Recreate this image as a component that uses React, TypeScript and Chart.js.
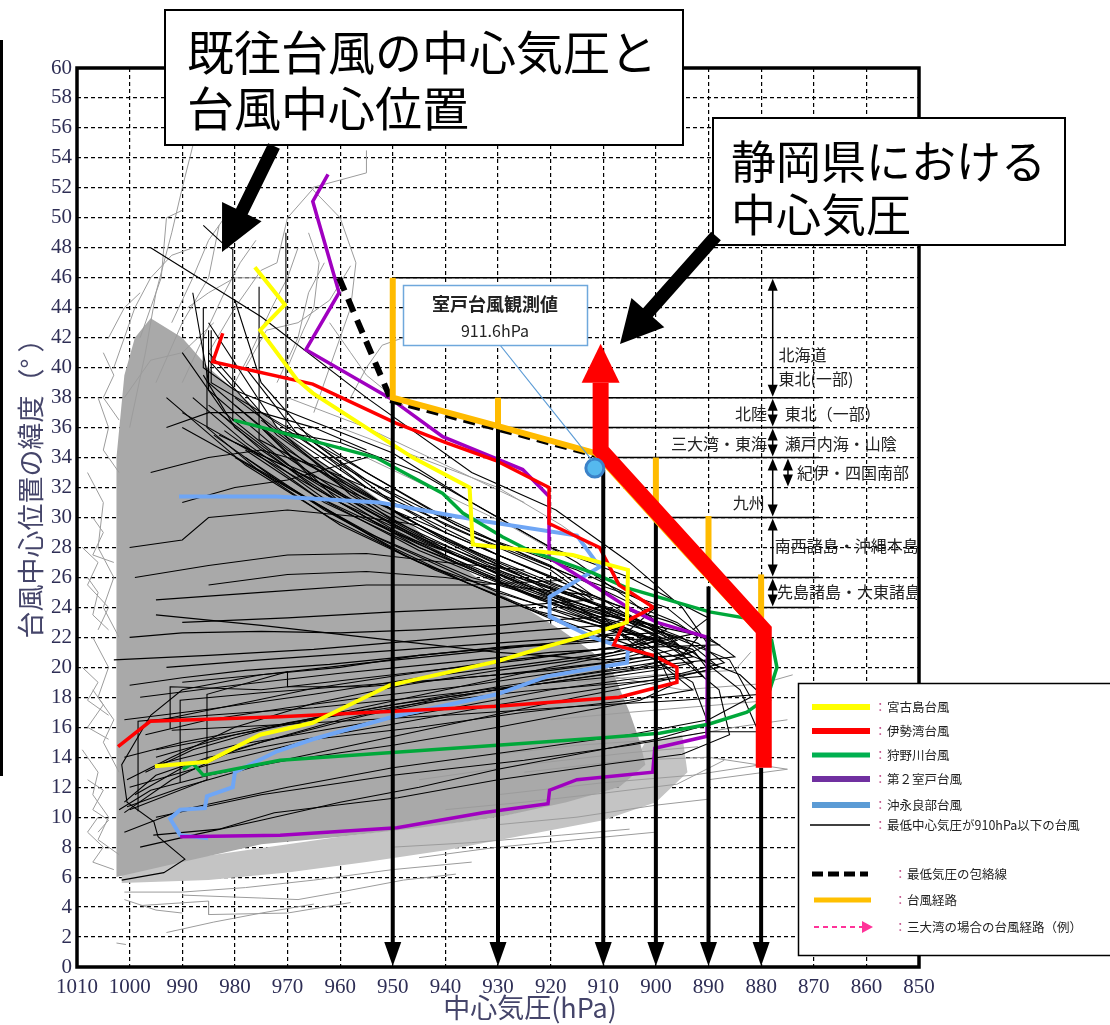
import { useEffect, useRef } from "react";
import { Chart, registerables } from "chart.js";

Chart.register(...registerables);

type Pt = [number, number];

// ---------- axes ----------
const pressureTicks: number[] = [1010, 1000, 990, 980, 970, 960, 950, 940, 930, 920, 910, 900, 890, 880, 870, 860, 850];
const latitudeTicks: number[] = [0, 2, 4, 6, 8, 10, 12, 14, 16, 18, 20, 22, 24, 26, 28, 30, 32, 34, 36, 38, 40, 42, 44, 46, 48, 50, 52, 54, 56, 58, 60];

// ---------- dense cloud of past typhoon tracks ----------
const denseCloud: Pt[] = [
  [1002.5, 6.0], [1002.5, 34], [1001, 39.5], [999, 42], [996, 43.3], [990, 42], [985, 40], [980, 38.5], [975, 37],
  [970, 35.5], [963, 33.5], [955, 31.8], [948, 30], [940, 27.5], [932, 25.5], [925, 24], [918, 22.5], [912, 21],
  [908, 19.5], [905, 17], [903, 15], [902, 13.5], [907, 12], [917, 11], [930, 10], [945, 9.3], [960, 8.7],
  [975, 8.2], [990, 7], [1002.5, 6.0],
];
const sparseBand: Pt[] = [
  [1001.5, 5.6], [985, 5.8], [970, 6.3], [955, 7], [940, 7.8], [925, 8.8], [910, 9.8], [900, 11], [894, 13],
  [895, 15.5], [902, 15], [907, 12], [930, 10], [960, 8.7], [1001.5, 6.6],
];

const grayTracks: Pt[][] = [
  [[1008, 33], [1005, 31], [1006, 28], [1003, 26], [1005, 24], [1002, 22]],
  [[1007, 22], [1004, 20], [1006, 18], [1003, 16.5], [1005, 15], [1002, 13]],
  [[1009, 14.5], [1006, 13], [1007, 11.5], [1004, 10], [1006, 8.5], [1002, 7.5]],
  [[1006, 38], [1004, 36], [1005, 34.5], [1002, 33]],
  [[1008, 26], [1006, 25], [1007, 23.5], [1004, 22.5]],
  [[1006, 10], [1008, 9], [1005, 8], [1007, 7], [1003, 6.5]],
  [[1007, 18.5], [1005, 17.5], [1008, 16], [1004, 15.2]],
  [[1009, 28], [1006, 27], [1008, 25.5], [1004, 24], [1006, 22.5]],
  [[1005, 41], [1003, 39.5], [1005, 38], [1002, 36.5]],
  [[1008, 12.5], [1005, 11.8], [1007, 10.5], [1004, 9.8], [1006, 9]],
  [[1009, 20], [1006, 19], [1008, 17.8], [1004, 16.8]],
  [[1007, 30], [1005, 29], [1007, 27.5], [1003, 27]],
  [[1002.5, 1.6], [1000.7, 1.5]],
  [[1000, 36], [997, 41], [995, 45], [992, 49], [990, 52], [987.5, 55.5]],
  [[992, 43], [988, 46], [985, 48.5], [981, 50.5], [978, 50]],
  [[985, 41], [980, 44], [975, 46.5], [972, 47], [970, 50], [965, 52]],
  [[965, 37], [962, 40], [960, 42], [958, 44], [957, 47], [960, 50], [965.5, 52], [955, 53], [955, 54.5]],
  [[972, 39], [968, 42], [966, 45], [963, 47]],
  [[995, 39], [990, 43], [985, 46], [983, 49.5]],
  [[978, 40], [974, 42.5], [968, 43], [962, 44.5], [958, 46.8]],
  [[1001, 38], [996, 40.5], [990, 41], [984, 43]],
  [[958, 38], [955, 40], [952, 41.5], [948, 42]],
  [[962, 43], [958, 41], [955, 39.5], [948, 37.5]],
  [[1003, 40], [999, 44], [996, 46], [992, 47.5], [988, 48]],
  [[998, 42], [994, 46], [993, 50], [990, 50.5]],
  [[990, 39], [986, 42], [982, 45], [979, 47], [976, 48.5]],
  [[980, 39], [977, 41], [973, 44], [970, 46], [968, 48]],
  [[1004, 42], [1001, 44], [998, 45]],
  [[989, 44], [985, 45], [980, 46], [975, 46]],
  [[970, 40], [967, 42.5], [965, 44], [964, 47], [966, 49]],
  [[960, 36], [945, 34], [930, 32], [918, 29.5], [912, 28]],
  [[955, 34], [940, 31.5], [928, 29.5], [918, 27.5]],
  [[970, 38], [955, 36], [940, 33.5], [925, 31]],
  [[925, 13], [905, 13.8], [890, 14], [875, 13.2], [890, 12.5]],
  [[930, 11.5], [910, 12.3], [893, 12.8], [880, 13.5]],
  [[920, 16.5], [905, 17], [888, 17.5], [878, 17.8]],
  [[915, 19], [900, 19.5], [885, 19.8], [882, 21]],
  [[930, 9.5], [915, 10], [900, 10.8], [890, 11.2]],
  [[950, 8], [935, 8.3], [918, 8.8], [905, 9.2]],
  [[935, 14], [915, 14.8], [898, 15.2], [885, 16], [875, 16.5]],
  [[945, 12.5], [925, 13.5], [905, 14.3], [892, 14.7]],
  [[910, 19.5], [895, 18.5], [880, 18.9], [874, 19.5]],
  [[1001, 5], [990, 5], [978, 5.3], [965, 5.8], [950, 6.5], [935, 7]],
  [[998, 4.1], [985, 4.4], [985, 3.5], [970, 3.6], [958, 4.3]],
  [[993, 2.3], [984, 3], [975, 3.6], [965, 4.2]],
  [[990, 4.8], [975, 4.6], [968, 4.5], [960, 5], [948, 5.8], [938, 6.2]],
  [[945, 7.3], [930, 8], [915, 8.5], [900, 9]],
  [[940, 10.5], [925, 11], [910, 11.6], [896, 12.2], [887, 13.8]],
  [[1001, 4.5], [995, 3.8], [990, 3.6]],
];

const blackTracks: Pt[][] = [
  [[1000.5, 10.7], [990, 12], [975, 13.5], [955, 15], [935, 16.5], [915, 18], [900, 19], [888, 20], [895, 22], [910, 24], [930, 26.5], [950, 29], [965, 32], [980, 36], [986, 39.5]],
  [[1001, 10.3], [992, 12.5], [980, 14.5], [960, 16.5], [940, 18], [920, 19], [905, 19.8], [898, 20.5], [905, 22.5], [925, 25], [945, 28], [960, 31], [975, 34.5], [983, 37]],
  [[999, 11.5], [990, 13.3], [975, 15], [955, 16.8], [935, 18.2], [915, 19.5], [893, 20.7], [900, 22.8], [920, 24.8], [940, 27.8], [955, 30.5], [970, 34], [985, 38.5], [985, 42.5]],
  [[997, 13], [988, 14.5], [970, 16.3], [950, 17.5], [930, 18.7], [910, 19.7], [885, 20.7], [890, 22], [910, 23.5], [935, 26], [955, 29], [972, 32.5], [990, 36]],
  [[1000, 12], [985, 13.5], [965, 15.2], [945, 16], [925, 17], [905, 17.8], [893, 18.5], [900, 20.5], [915, 22.5], [935, 25.5], [950, 28], [963, 30.5], [978, 34]],
  [[995, 14.5], [980, 15.5], [960, 17], [940, 18.5], [920, 20], [905, 21], [896, 21.8], [905, 23.5], [925, 26], [945, 29.5], [962, 33], [975, 36.5]],
  [[1001, 16.5], [985, 17.2], [965, 18.2], [945, 19.3], [925, 20.2], [908, 21], [900, 22], [910, 24], [930, 27], [948, 30], [965, 34], [980, 38]],
  [[998, 18], [980, 18.8], [960, 19.6], [940, 20.3], [920, 21], [905, 21.3], [888, 21.5], [897, 23], [915, 25], [940, 28.5], [958, 32], [972, 35.5], [985, 40.5]],
  [[993, 20], [975, 20.5], [955, 21], [935, 21.5], [915, 22], [900, 22.3], [910, 24.5], [930, 27.5], [950, 31], [965, 35], [975, 39], [980, 44.5]],
  [[1003, 20.5], [985, 20.8], [965, 21.2], [945, 21.8], [925, 22.4], [910, 22.8], [903, 23.5], [920, 26], [940, 29], [955, 32], [968, 35.5], [978, 40]],
  [[990, 23], [970, 23.3], [950, 23.7], [930, 24], [912, 24.5], [920, 26.5], [940, 29.5], [960, 33.5], [975, 37], [985, 41]],
  [[995, 24.5], [975, 25], [955, 25.5], [935, 25.5], [918, 25.8], [930, 27.5], [950, 30.5], [970, 33.5], [985, 37.5]],
  [[992, 15.8], [970, 16.2], [940, 16.8], [910, 17.5], [895, 17.8], [880, 18.2], [884, 19.5], [895, 21], [915, 23.5], [935, 26.5], [955, 30], [975, 34], [990, 37]],
  [[1001, 9], [990, 10.5], [970, 12], [950, 13.3], [925, 14.5], [905, 15.5], [890, 16.5], [882, 18], [886, 20.5], [900, 22.5], [925, 25.5], [945, 28.5], [965, 32.5], [983, 35.5]],
  [[995, 10], [975, 11.5], [950, 12.8], [925, 13.8], [905, 14.8], [890, 15.7], [880.5, 15.7], [884, 18.5], [893, 21], [910, 23], [935, 27], [960, 31], [975, 36]],
  [[998.4, 10.4], [998.4, 16.4], [985, 16.8], [965, 17.3], [945, 18], [925, 18.8], [910, 19.3], [900, 19.8], [893, 20.3], [898, 21.5], [915, 24], [938, 27.5], [958, 31.5], [970.3, 35.4], [970.3, 49]],
  [[1001.5, 5.8], [993.5, 6.3], [989.5, 7.2], [994.6, 8.7], [995.4, 9.7], [1000.5, 11], [1001.5, 13.5], [996, 16.8], [990, 18.5], [975, 19.5], [955, 20.3], [935, 21], [915, 21.8], [905, 22.5], [900, 24], [915, 26.5], [935, 29], [955, 32.5], [965, 35]],
  [[995.5, 8.8], [983, 9.2], [972.5, 10.3], [958.5, 10.9], [949, 11.3], [930, 12.5], [910, 13.5], [895, 14.2], [886, 15.5], [888, 18.5], [895, 20.5], [905, 22], [925, 24.5], [945, 27], [960, 29.5], [975, 33], [985.3, 36], [985.3, 40]],
  [[996, 48], [975, 43.4], [955, 38], [935, 33], [919, 30.5], [905, 27], [895, 24], [890, 21.5], [900, 20], [920, 19], [950, 17.5], [980, 15.5], [995, 14]],
  [[986, 49.5], [982.3, 48.3], [980.4, 47.9], [980.4, 36.5], [975, 36], [960, 35], [945, 33], [930, 30], [915, 27], [905, 24.5], [898, 22.5], [905, 21.5], [925, 20.5], [950, 19.5], [975, 18.5], [992.3, 18.7], [992.3, 15.9]],
  [[975.4, 45.4], [975.4, 35.2], [955, 31.5], [940, 28.5], [925, 26], [910, 23], [902, 21], [910, 20.3], [930, 19.5], [955, 18.7], [970, 18.7], [970, 19.7], [985.3, 18.2], [985.3, 12.5], [1000, 10.5]],
  [[984.5, 42.5], [984.5, 39], [970, 36], [955, 33], [940, 30], [925, 27.5], [912, 25.5], [903, 24], [896, 23], [892, 22], [895, 20.8], [910, 20.5], [930, 21], [955, 22], [975, 22.8], [995, 23.5]],
  [[986, 44], [986, 40], [980, 38.5], [968, 36.8], [950, 34.3], [935, 31], [920, 28], [905, 26], [895, 24.2], [890, 23.3], [893, 22.5]],
  [[999, 26], [985, 26.8], [970, 27.5], [955, 27.6], [940, 27], [925, 26.5]],
  [[1000, 28], [990, 28.5], [985, 30], [970, 30.5], [955, 30], [945, 29.5]],
  [[990, 31], [980, 32], [970, 32.5], [960, 33.5], [955, 34]],
  [[990.4, 12.3], [990.4, 17.8], [975, 18.3], [960, 18.7], [940, 19.2], [920, 19.8], [905, 20.5], [895, 21.3], [902, 23], [920, 25.3], [945, 28.8], [962, 32], [980, 35]],
  [[1001, 11], [995, 12.8], [985, 14], [970, 15], [950, 16.2], [930, 17.5], [912, 18.5], [898, 19.3], [890, 19.8], [893, 21.2], [905, 22.3], [922, 23.7], [942, 26.5], [962, 30], [978, 33.5], [993, 38]],
  [[1002, 10.5], [996, 11.8], [985, 12.8], [970, 13.8], [950, 14.8], [930, 16], [915, 17], [903, 17.8], [897, 18.8], [900, 21], [912, 23.2], [930, 25.8], [950, 29.2], [968, 33], [982, 37], [990, 41]],
  [[1000.5, 12.5], [992, 14], [980, 16], [965, 17.6], [948, 18.8], [930, 19.8], [915, 20.5], [905, 21.2], [898, 22], [908, 23.8], [928, 26.2], [950, 29.8], [967, 33.8], [980, 37.5]],
  [[997, 15.5], [985, 16.5], [970, 17.3], [955, 18], [935, 18.8], [918, 19.7], [905, 20.3], [893, 21], [902, 22.5], [922, 24.5], [945, 27.8], [965, 31.5], [982, 35.8]],
  [[994, 16.5], [980, 17.5], [965, 18.6], [950, 19.4], [930, 20.4], [915, 21], [900, 21.7], [892, 22.3], [898, 24], [915, 26], [935, 28.8], [955, 32], [972, 36], [985, 43]],
  [[990, 19], [975, 19.5], [960, 20], [945, 20.8], [930, 21.3], [915, 21.6], [905, 21.9], [910, 23.3], [925, 25.2], [945, 28], [963, 31], [978, 34.5]],
  [[1000, 22], [990, 22.3], [975, 22.4], [960, 22.3], [945, 22.5], [930, 22.8], [918, 23.2], [908, 23.4], [915, 25], [932, 27], [952, 30.5], [970, 34.5], [985, 39], [988, 45]],
  [[995, 13.5], [980, 14.8], [960, 16], [940, 17.2], [920, 18.5], [905, 19.2], [895, 19.6], [887, 20.3], [892, 21.6], [905, 23], [925, 25.3], [945, 28.2], [962, 31], [978, 35], [988, 38]],
  [[1001, 14], [990, 15], [975, 16], [960, 16.8], [945, 17.6], [925, 18.4], [908, 18.9], [898, 19.2], [891, 19.4], [896, 21.3], [911, 23], [930, 25], [952, 28.5], [970, 32], [984, 35.5]],
  [[998, 8], [988, 8.8], [975, 9.8], [960, 11], [945, 12], [930, 13.2], [915, 14.2], [900, 15.2], [890, 16.2], [893, 19], [905, 21.5], [925, 24], [948, 27.5], [965, 31], [980, 34]],
  [[985, 25.5], [970, 26.2], [955, 26.4], [940, 26], [925, 25.3], [912, 24.8], [920, 26.8], [938, 29.5], [955, 33], [968, 36]],
  [[1000, 18.8], [990, 19.3], [978, 19.8], [962, 20.2], [945, 20.8], [928, 21.4], [912, 21.8], [899, 21.9], [906, 23.2], [924, 25.5], [947, 29], [965, 32.5], [975, 36]],
  [[996, 33], [985, 34], [975, 34.5], [965, 33.5], [955, 32]],
  [[993, 36], [985, 37], [975, 37], [965, 36], [955, 34.5]],
];

// ---------- notable typhoons ----------
const miyakojima: Pt[] = [
  [995.2, 13.4], [985.3, 13.7], [975.2, 15.5], [965.2, 16.3], [957.6, 17.6], [950.6, 18.8], [930.2, 20.4], [920.7, 21.4],
  [914.5, 22], [905.5, 23], [905.3, 26.5], [915.8, 27.5], [934.8, 28.2], [935.4, 32], [946.2, 34], [965.2, 38.3],
  [968.2, 39.2], [975.2, 42.5], [970.5, 44.2], [976.2, 46.7],
];
const isewan: Pt[] = [
  [1002.2, 14.7], [996.1, 16.4], [971.4, 16.7], [930.2, 17.4], [907, 18], [896, 19], [896, 20], [900.5, 20.8],
  [908, 21.5], [906, 23], [900.5, 24], [907, 25.5], [910.7, 28], [920.3, 29.6], [920.3, 32], [930.4, 33.8],
  [939.9, 35], [949.4, 36.3], [965.2, 38.9], [984.2, 40.4], [982.3, 42.3],
];
const kanogawa: Pt[] = [
  [989.9, 13.2], [988, 13.6], [986, 12.8], [971.4, 13.8], [930.2, 14.8], [910, 15.3], [899.3, 15.6], [890, 16.2],
  [882.7, 17], [878.8, 18], [877, 20], [878, 21.8], [881.6, 23.2], [889.8, 23.7], [905.5, 25.3], [912, 26.3],
  [924.1, 27.8], [929.1, 28.7], [936.7, 30.3], [940.5, 31.6], [953.2, 34], [974.7, 36], [980.2, 36.5],
];
const muroto2: Pt[] = [
  [990.4, 8.7], [971.4, 8.8], [949.2, 9.3], [932.9, 10.3], [920.5, 10.9], [920.2, 11.8], [915, 12.5], [900.6, 13],
  [900.2, 14.6], [890.3, 15.4], [890.2, 22], [899.8, 23], [904.4, 23.8], [912, 25.5], [920.2, 27.3], [920.3, 31.4],
  [925.3, 33.2], [940.5, 35.4], [950.7, 38], [966.5, 41.2], [960.2, 45], [965.2, 51.1], [962.3, 52.9],
];
const okinoerabu: Pt[] = [
  [985.1, 8.6], [990.4, 8.8], [992.3, 9.9], [990.4, 10.5], [985.7, 10.6], [985.3, 11.4], [980.4, 12], [980, 13],
  [972, 14.4], [965.2, 15.2], [950, 16.7], [930.2, 18.2], [920.7, 19.4], [910.7, 20], [905.5, 20.3], [905.3, 21.2],
  [912, 22], [920.2, 23.4], [920.2, 24.7], [910.7, 26.7], [915, 28.8], [933.5, 29.8], [952.5, 31], [972.2, 31.4],
  [990.6, 31.4],
];

// ---------- Shizuoka scenario ----------
const shizuokaPath: Pt[] = [[879.5, 13.3], [879.5, 22.5], [910.5, 34.5], [910.5, 39]];
const shizuokaArrowTipLat = 41.6;
const typhoonRoute: Pt[] = [[950, 46], [950, 38], [930, 36.1], [911.5, 34.3], [896, 28.3], [881, 22.6]];
const routeStubs: Pt[][] = [
  [[930, 36.1], [930, 38]],
  [[900, 30.4], [900, 34]],
  [[890, 26.6], [890, 30.1]],
  [[880, 23.3], [880, 26.2]],
];
const envelopeSteep: Pt[] = [[960.2, 46], [950.5, 38]];
const envelopeRoute: Pt[] = [[950.5, 37.8], [930, 35.9], [911, 34.1]];
const dropPressures: number[] = [950, 930, 910, 900, 890, 880];
const dropTopLats: number[] = [38, 36.1, 33.2, 29.8, 25.4, 13.3];
const regionLineLats: number[] = [46, 38, 36, 34, 30, 26, 24];
const regionLineStartP: number[] = [950, 950, 930, 910, 900, 890, 880];
const regionLineEndP = 869;
const regionSpans: [number, number, number][] = [
  [877.8, 46, 38], [877.8, 38, 36], [877.8, 36, 34], [877.8, 34, 30], [874.9, 34, 32], [877.8, 30, 26], [877.8, 26, 24],
];
const regionLabels: { text: string; p: number; lat: number; align: "left" | "right" }[] = [
  { text: "北海道", p: 876.7, lat: 40.85, align: "left" },
  { text: "東北(一部)", p: 876.7, lat: 39.25, align: "left" },
  { text: "北陸", p: 878.9, lat: 36.9, align: "right" },
  { text: "東北（一部）", p: 875.5, lat: 36.9, align: "left" },
  { text: "三大湾・東海", p: 878.9, lat: 34.9, align: "right" },
  { text: "瀬戸内海・山陰", p: 875.5, lat: 34.9, align: "left" },
  { text: "紀伊・四国南部", p: 873.2, lat: 33.0, align: "left" },
  { text: "九州", p: 879.3, lat: 31.0, align: "right" },
  { text: "南西諸島・沖縄本島", p: 877.4, lat: 28.1, align: "left" },
  { text: "先島諸島・大東諸島", p: 877.0, lat: 25.0, align: "left" },
];
const murotoObserved: Pt = [911.6, 33.3];

const legendLabels: string[] = [
  "宮古島台風", "伊勢湾台風", "狩野川台風", "第２室戸台風", "沖永良部台風", "最低中心気圧が910hPa以下の台風",
  "最低気圧の包絡線", "台風経路", "三大湾の場合の台風経路（例）",
];

const CJK = '"Noto Sans CJK JP", "Noto Sans", sans-serif';

const toXY = (d: Pt[]) => d.map(([x, y]) => ({ x, y }));

function lineSet(data: Pt[], color: string, width: number, order: number, extra: any = {}) {
  return {
    data: toXY(data),
    showLine: true,
    borderColor: color,
    backgroundColor: color,
    borderWidth: width,
    pointRadius: 0,
    pointHoverRadius: 0,
    fill: false,
    tension: 0,
    order,
    ...extra,
  };
}

function blockArrow(ctx: CanvasRenderingContext2D, x1: number, y1: number, x2: number, y2: number, shaft: number, headLen: number, headW: number) {
  const ang = Math.atan2(y2 - y1, x2 - x1);
  const len = Math.hypot(x2 - x1, y2 - y1);
  ctx.save();
  ctx.translate(x1, y1);
  ctx.rotate(ang);
  ctx.fillStyle = "#000";
  ctx.beginPath();
  ctx.moveTo(0, -shaft / 2);
  ctx.lineTo(len - headLen, -shaft / 2);
  ctx.lineTo(len - headLen, -headW / 2);
  ctx.lineTo(len, 0);
  ctx.lineTo(len - headLen, headW / 2);
  ctx.lineTo(len - headLen, shaft / 2);
  ctx.lineTo(0, shaft / 2);
  ctx.closePath();
  ctx.fill();
  ctx.restore();
}

function tri(ctx: CanvasRenderingContext2D, ax: number, ay: number, bx: number, by: number, cx: number, cy: number) {
  ctx.beginPath();
  ctx.moveTo(ax, ay);
  ctx.lineTo(bx, by);
  ctx.lineTo(cx, cy);
  ctx.closePath();
  ctx.fill();
}

const overlayPlugin = {
  id: "overlay",
  afterDraw(chart: any) {
    const ctx: CanvasRenderingContext2D = chart.ctx;
    const a = chart.chartArea;
    const xs = chart.scales.x;
    const ys = chart.scales.y;
    const X = (p: number) => xs.getPixelForValue(p);
    const Y = (l: number) => ys.getPixelForValue(l);
    ctx.save();

    // frame
    ctx.strokeStyle = "#000";
    ctx.lineWidth = 3.5;
    ctx.strokeRect(a.left, a.top, a.right - a.left, a.bottom - a.top);
    ctx.lineWidth = 3;
    ctx.beginPath();
    ctx.moveTo(1.5, 40);
    ctx.lineTo(1.5, 776);
    ctx.stroke();

    // drop arrowheads
    ctx.fillStyle = "#000";
    dropPressures.forEach((p) => {
      const x = X(p);
      const y = Y(0);
      tri(ctx, x, y - 1, x - 8.5, y - 25, x + 8.5, y - 25);
    });

    // red arrowhead
    {
      const last = shizuokaPath[shizuokaPath.length - 1];
      const x = X(last[0]);
      ctx.fillStyle = "#ff0000";
      tri(ctx, x, Y(shizuokaArrowTipLat), x - 19, Y(last[1]), x + 19, Y(last[1]));
    }

    // region double arrows
    ctx.strokeStyle = "#000";
    ctx.fillStyle = "#000";
    ctx.lineWidth = 1.5;
    regionSpans.forEach(([p, top, bot]) => {
      const x = X(p);
      const y1 = Y(top) + 1;
      const y2 = Y(bot) - 1;
      ctx.beginPath();
      ctx.moveTo(x, y1 + 6);
      ctx.lineTo(x, y2 - 6);
      ctx.stroke();
      tri(ctx, x, y1, x - 5, y1 + 12, x + 5, y1 + 12);
      tri(ctx, x, y2, x - 5, y2 - 12, x + 5, y2 - 12);
    });

    // region labels
    ctx.save();
    ctx.beginPath();
    ctx.rect(a.left, a.top, a.right - a.left - 2, a.bottom - a.top);
    ctx.clip();
    ctx.font = `16px ${CJK}`;
    ctx.fillStyle = "#222";
    ctx.textBaseline = "middle";
    regionLabels.forEach((l) => {
      ctx.textAlign = l.align;
      ctx.fillText(l.text, X(l.p), Y(l.lat));
    });
    ctx.restore();

    // observed value callout
    ctx.strokeStyle = "#5b9bd5";
    ctx.lineWidth = 1.2;
    ctx.beginPath();
    ctx.moveTo(500, 345);
    ctx.lineTo(X(murotoObserved[0]) - 3, Y(murotoObserved[1]) - 8);
    ctx.stroke();
    ctx.fillStyle = "#fff";
    ctx.fillRect(403, 285, 184, 60);
    ctx.lineWidth = 1.5;
    ctx.strokeStyle = "#6fa8dc";
    ctx.strokeRect(403.5, 285.5, 184, 60);
    ctx.fillStyle = "#222";
    ctx.textAlign = "center";
    ctx.textBaseline = "middle";
    ctx.font = `bold 18px ${CJK}`;
    ctx.fillText("室戸台風観測値", 495, 304);
    ctx.font = `16px ${CJK}`;
    ctx.fillText("911.6hPa", 495, 331);

    // big callout boxes
    ctx.fillStyle = "#fff";
    ctx.fillRect(165, 10, 518, 135);
    ctx.fillRect(713, 118, 352, 127);
    ctx.strokeStyle = "#000";
    ctx.lineWidth = 2;
    ctx.strokeRect(165, 10, 518, 135);
    ctx.strokeRect(713, 118, 352, 127);
    ctx.fillStyle = "#000";
    ctx.textAlign = "left";
    ctx.font = `47px ${CJK}`;
    ctx.fillText("既往台風の中心気圧と", 187, 52);
    ctx.fillText("台風中心位置", 187, 108);
    ctx.font = `45px ${CJK}`;
    ctx.fillText("静岡県における", 731, 162);
    ctx.fillText("中心気圧", 731, 215);
    blockArrow(ctx, 274, 146, 222, 252, 13, 45, 44);
    blockArrow(ctx, 716, 236, 620, 344, 13, 42, 44);

    // legend
    ctx.fillStyle = "#fff";
    ctx.fillRect(798, 683, 330, 273);
    ctx.strokeStyle = "#000";
    ctx.lineWidth = 1.5;
    ctx.strokeRect(798.5, 683.5, 330, 272);
    const rows = [
      { y: 707, color: "#ffff00", w: 6, dash: [] as number[], x1: 812, x2: 870, tx: 878 },
      { y: 731, color: "#ff0000", w: 6, dash: [], x1: 812, x2: 870, tx: 878 },
      { y: 755, color: "#00b050", w: 5, dash: [], x1: 812, x2: 870, tx: 878 },
      { y: 779, color: "#7030a0", w: 6, dash: [], x1: 812, x2: 870, tx: 878 },
      { y: 805, color: "#5b9bd5", w: 6, dash: [], x1: 812, x2: 870, tx: 878 },
      { y: 825, color: "#000", w: 1.5, dash: [], x1: 810, x2: 870, tx: 878 },
      { y: 874, color: "#000", w: 5, dash: [11, 5], x1: 812, x2: 868, tx: 898 },
      { y: 900, color: "#ffc000", w: 5, dash: [], x1: 814, x2: 871, tx: 898 },
      { y: 927, color: "#ff3399", w: 2, dash: [5, 4], x1: 814, x2: 870, tx: 898 },
    ];
    ctx.textBaseline = "middle";
    ctx.textAlign = "left";
    rows.forEach((r, i) => {
      ctx.save();
      ctx.strokeStyle = r.color;
      ctx.lineWidth = r.w;
      ctx.setLineDash(r.dash);
      ctx.beginPath();
      ctx.moveTo(r.x1, r.y);
      ctx.lineTo(i === 8 ? r.x2 - 8 : r.x2, r.y);
      ctx.stroke();
      ctx.restore();
      if (i === 8) {
        ctx.fillStyle = r.color;
        tri(ctx, r.x2 + 3, r.y, r.x2 - 8, r.y - 6, r.x2 - 8, r.y + 6);
      }
      ctx.font = `12.5px ${CJK}`;
      ctx.fillStyle = "#c0508a";
      ctx.fillText("：", r.tx - 4, r.y);
      ctx.fillStyle = "#222";
      ctx.fillText(legendLabels[i], r.tx + 9, r.y);
    });

    // axis titles
    ctx.fillStyle = "#45456a";
    ctx.font = `27px ${CJK}`;
    ctx.textAlign = "center";
    ctx.textBaseline = "middle";
    ctx.fillText("中心気圧(hPa)", 530, 1008);
    ctx.save();
    ctx.translate(31, 482);
    ctx.rotate(-Math.PI / 2);
    ctx.fillText("台風中心位置の緯度（° ）", 0, 0);
    ctx.restore();

    ctx.restore();
  },
};

export default function App() {
  const ref = useRef<HTMLCanvasElement | null>(null);

  useEffect(() => {
    if (!ref.current) return;
    const datasets: any[] = [];
    datasets.push(lineSet(sparseBand, "#c4c4c4", 0, 210, { fill: "shape", backgroundColor: "#c4c4c4" }));
    datasets.push(lineSet(denseCloud, "#a9a9a9", 0, 200, { fill: "shape", backgroundColor: "#a9a9a9" }));
    grayTracks.forEach((t) => datasets.push(lineSet(t, "#9c9c9c", 1, 150)));
    blackTracks.forEach((t) => datasets.push(lineSet(t, "#000", 1.1, 120)));
    datasets.push(lineSet(okinoerabu, "#6fa6f5", 4, 104));
    datasets.push(lineSet(muroto2, "#a000c0", 3.5, 103));
    datasets.push(lineSet(kanogawa, "#00a83a", 3.5, 102));
    datasets.push(lineSet(isewan, "#ff0000", 3.5, 101));
    datasets.push(lineSet(miyakojima, "#ffff00", 4, 100));
    regionLineLats.forEach((lat, i) =>
      datasets.push(lineSet([[regionLineStartP[i], lat], [regionLineEndP, lat]], "#000", 1.5, 90))
    );
    dropPressures.forEach((p, i) =>
      datasets.push(lineSet([[p, dropTopLats[i]], [p, 1.5]], "#000", 4, 80))
    );
    datasets.push(lineSet(envelopeSteep, "#000", 6, 70, { borderDash: [14, 9] }));
    datasets.push(lineSet(envelopeRoute, "#000", 5, 70, { borderDash: [12, 7] }));
    datasets.push(lineSet(typhoonRoute, "#ffbb00", 6, 60));
    routeStubs.forEach((s) => datasets.push(lineSet(s, "#ffbb00", 6, 60)));
    datasets.push(lineSet(shizuokaPath, "#ff0000", 16, 50, { borderJoinStyle: "miter", borderCapStyle: "butt" }));
    datasets.push({
      data: toXY([murotoObserved]),
      showLine: false,
      pointRadius: 9,
      pointHoverRadius: 9,
      pointBackgroundColor: "#55b9ee",
      pointBorderColor: "#3b82c8",
      pointBorderWidth: 3,
      order: 40,
    });

    const chart = new Chart(ref.current, {
      type: "scatter",
      data: { datasets },
      options: {
        animation: false,
        responsive: false,
        devicePixelRatio: 1,
        events: [],
        layout: { padding: { top: 68, right: 191, bottom: 0, left: 0 } },
        plugins: { legend: { display: false }, tooltip: { enabled: false }, title: { display: false } },
        scales: {
          x: {
            type: "linear",
            reverse: true,
            min: 850,
            max: 1010,
            afterFit: (s: any) => {
              s.height = 58;
            },
            grid: { color: "#000", lineWidth: 1.2, drawTicks: false },
            border: { display: false, dash: [4, 3] },
            ticks: {
              stepSize: 10,
              autoSkip: false,
              maxRotation: 0,
              padding: 8,
              color: "#2e2e55",
              font: { family: '"Liberation Serif", serif', size: 21 },
              callback: (v: any) => (pressureTicks.includes(Number(v)) ? String(v) : ""),
            },
          },
          y: {
            type: "linear",
            min: 0,
            max: 60,
            afterFit: (s: any) => {
              s.width = 77;
            },
            grid: { color: "#000", lineWidth: 1.2, drawTicks: false },
            border: { display: false, dash: [4, 3] },
            ticks: {
              stepSize: 2,
              autoSkip: false,
              padding: 5,
              color: "#2e2e55",
              font: { family: '"Liberation Serif", serif', size: 21 },
              callback: (v: any) => (latitudeTicks.includes(Number(v)) ? String(v) : ""),
            },
          },
        },
      },
      plugins: [overlayPlugin],
    });
    return () => chart.destroy();
  }, []);

  return (
    <div style={{ position: "absolute", left: 0, top: 0, width: 1110, height: 1025, background: "#fff" }}>
      <canvas ref={ref} width={1110} height={1025} style={{ display: "block", width: 1110, height: 1025 }} />
    </div>
  );
}
